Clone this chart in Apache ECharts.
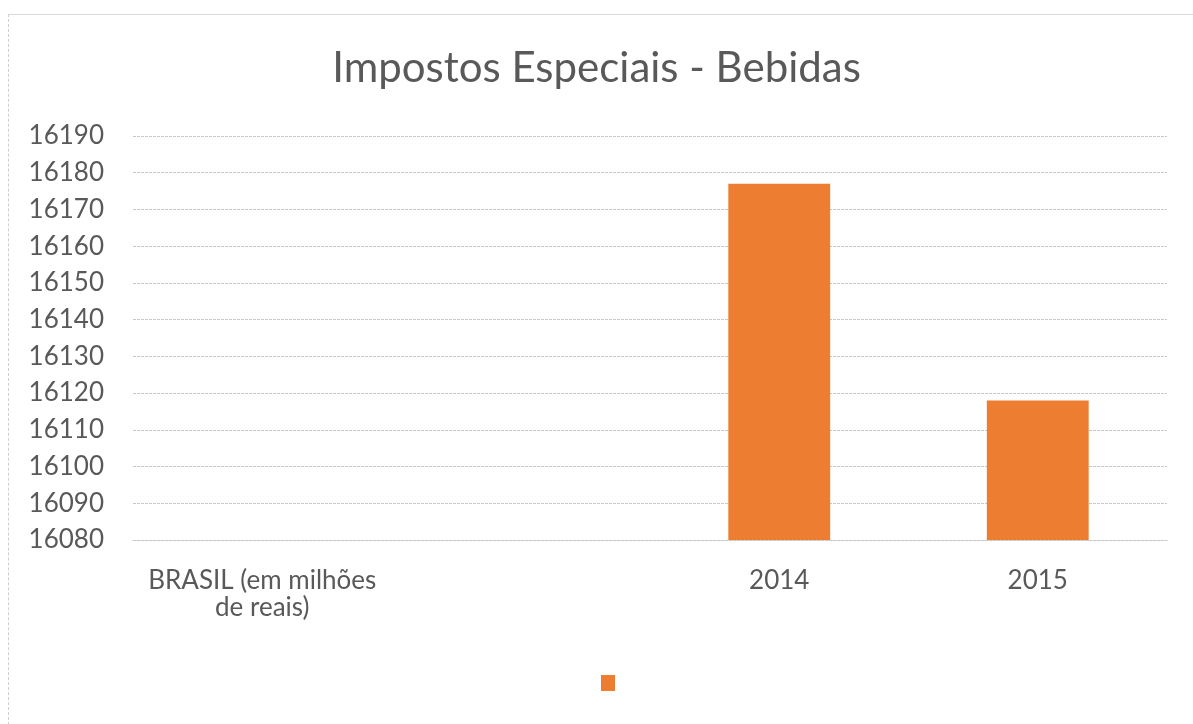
<!DOCTYPE html>
<html>
<head>
<meta charset="utf-8">
<script src="https://cdn.jsdelivr.net/npm/echarts@6/dist/echarts.min.js"></script>
<style>
  html, body { margin: 0; padding: 0; background: #fff; }
  #frame {
    position: absolute; left: 8px; top: 14px; width: 1200px; height: 720px;
    border-top: 1px solid #d9d9d9; border-left: 1px dashed #cfcfcf;
  }
  #chart { position: absolute; left: 0; top: 0; width: 1193px; height: 724px; }
</style>
</head>
<body>
<div id="frame"></div>
<div id="chart"></div>
<script>
// dados
const categories = ["BRASIL (em milhões\nde reais)", "", "2014", "2015"]
const values = [null, null, 16177, 16118]
const yMin = 16080
const yMax = 16190
const yStep = 10

const font = "Lato, 'Noto Sans', sans-serif"
const textColor = "#595959"

let chart = echarts.init(document.getElementById("chart"))
let option = {
    animation: false,
    title: {
        text: "Impostos Especiais - Bebidas",
        left: "center",
        top: 42,
        textStyle: { fontFamily: font, fontSize: 42, fontWeight: "normal", color: textColor }
    },
    legend: {
        left: 596,
        top: 669,
        itemWidth: 14,
        itemHeight: 16,
        icon: "rect",
        data: [" "],
        textStyle: { fontFamily: font, fontSize: 18, color: textColor }
    },
    grid: { left: 133, right: 26, top: 136, bottom: 184 },
    xAxis: {
        type: "category",
        data: categories,
        axisLine: { lineStyle: { color: "#c8c8c8", type: [3, 1], width: 1 } },
        axisTick: { show: false },
        axisLabel: { fontFamily: font, fontSize: 26, color: textColor, margin: 27, lineHeight: 27, interval: 0 }
    },
    yAxis: {
        type: "value",
        min: yMin,
        max: yMax,
        interval: yStep,
        axisLine: { show: false },
        axisTick: { show: false },
        axisLabel: {
            fontFamily: font, fontSize: 26, color: textColor, margin: 29,
            formatter: v => String(v)
        },
        splitLine: { lineStyle: { color: "#c8c8c8", type: [3, 1], width: 1 } }
    },
    series: [{
        name: " ",
        type: "bar",
        barWidth: "39.4%",
        itemStyle: { color: "#ed7d31" },
        data: values
    }]
}
chart.setOption(option)
</script>
</body>
</html>
